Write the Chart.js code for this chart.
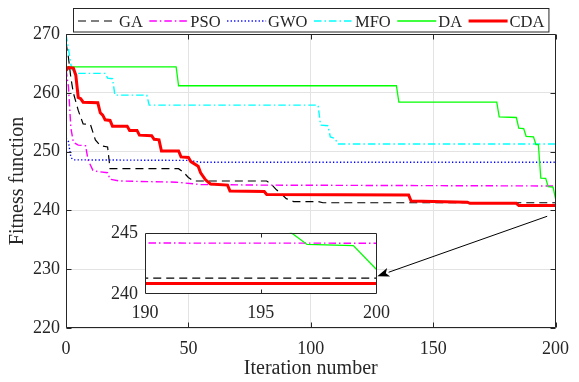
<!DOCTYPE html>
<html>
<head>
<meta charset="utf-8">
<script src="https://cdn.jsdelivr.net/npm/chart.js@4.4.1/dist/chart.umd.min.js"></script>
<style>
  html, body { margin: 0; padding: 0; background: #fff; }
  #wrap { position: relative; width: 579px; height: 382px; }
  #mainChart { position: absolute; left: 0; top: 0; }
  #insetChart { position: absolute; left: 100px; top: 215px; }
</style>
</head>
<body>
<div id="wrap">
  <canvas id="mainChart" width="579" height="382"></canvas>
  <canvas id="insetChart" width="298" height="115"></canvas>
</div>
<script>
// convergence curves (iteration, fitness)
const gaIter = [0, 1, 2, 3, 5, 7, 10, 12, 14, 17, 18, 46, 48, 50, 52, 82, 84, 86, 88, 90, 93, 103, 105, 200]
const gaFit = [268.5, 266, 262.5, 260, 257, 254.7, 254.6, 252, 251, 250.8, 247.1, 247.1, 246.5, 245.6, 245.0, 245.0, 244.4, 243.5, 242.8, 242.0, 241.5, 241.5, 241.3, 241.3]

const psoIter = [0, 1, 2, 3, 5, 8, 9, 11, 13, 17, 18, 22, 45, 55, 80, 200]
const psoFit = [264, 261, 254, 251.6, 251.1, 251.0, 248.6, 246.8, 246.6, 246.4, 245.3, 245.0, 244.8, 244.4, 244.3, 244.15]

const gwoIter = [0, 1, 2, 3, 50, 55, 200]
const gwoFit = [252.3, 251.7, 249.0, 248.6, 248.5, 248.2, 248.2]

const mfoIter = [0, 1, 2, 3, 16, 17, 19, 20, 33, 34, 103, 104, 107, 108, 110, 111, 200]
const mfoFit = [270, 267.5, 264.8, 263.3, 263.3, 262.5, 262.4, 259.6, 259.6, 257.9, 257.9, 254.5, 254.4, 252.5, 252.2, 251.3, 251.3]

const daIter = [0, 45, 46, 135, 136, 176, 177, 184, 185, 187, 188, 191, 192, 193, 194, 196, 197, 199, 200]
const daFit = [264.4, 264.4, 261.2, 261.2, 258.4, 258.4, 255.9, 255.8, 254.0, 253.9, 252.6, 252.5, 251.2, 251.2, 245.5, 245.45, 244.05, 243.95, 242.0]

const cdaIter = [0, 1, 3, 4, 5, 6, 7, 13, 14, 15, 16, 18, 19, 25, 26, 29, 30, 35, 36, 38, 39, 46, 47, 50, 51, 54, 55, 57, 59, 66, 67, 81, 82, 140, 141, 164, 165, 184, 185, 200]
const cdaFit = [263.8, 264.3, 264.2, 263, 259.2, 259.0, 258.4, 258.3, 256.6, 256.2, 255.4, 255.3, 254.3, 254.3, 253.6, 253.6, 252.8, 252.7, 252.1, 252.0, 250.1, 250.1, 249.1, 249.0, 248.3, 247.5, 246.4, 245.2, 244.5, 244.3, 243.3, 243.2, 242.7, 242.6, 241.6, 241.4, 241.2, 241.2, 240.85, 240.85]

const xTicks = [0, 50, 100, 150, 200]
const yTicks = [220, 230, 240, 250, 260, 270]
const insetXTicks = [190, 195, 200]
const insetYTicks = [240, 245]

// arrow from the curve ends to the zoom box (data coords of the main axes)
const arrowFrom = [196.6, 239.0]
const arrowTo = [127.2, 228.8]

const FONT = '"Liberation Serif", "Times New Roman", serif'
const INK = '#262626'

const series = [
    { label: 'GA', iter: gaIter, fit: gaFit, color: '#000000', width: 1.2, dash: [8, 5] },
    { label: 'PSO', iter: psoIter, fit: psoFit, color: '#ff00ff', width: 1.4, dash: [7.5, 3, 1.5, 3] },
    { label: 'GWO', iter: gwoIter, fit: gwoFit, color: '#0000ff', width: 1.4, dash: [1.3, 2.2] },
    { label: 'MFO', iter: mfoIter, fit: mfoFit, color: '#00ffff', width: 1.4, dash: [7.5, 3, 1.5, 3] },
    { label: 'DA', iter: daIter, fit: daFit, color: '#00ff00', width: 1.3, dash: [] },
    { label: 'CDA', iter: cdaIter, fit: cdaFit, color: '#ff0000', width: 3, dash: [] },
]

const makeDatasets = () => series.map((s, i) => ({
    label: s.label,
    data: s.iter.map((x, k) => ({ x: x, y: s.fit[k] })),
    borderColor: s.color,
    backgroundColor: s.color,
    borderWidth: s.width,
    borderDash: s.dash,
    pointRadius: 0,
    tension: 0,
    fill: false,
    order: series.length - i,
}))

const setTicks = (vals) => (scale) => { scale.ticks = vals.map(v => ({ value: v })) }

const drawBoxAndTicks = (chart, xt, yt, len, xInner, yInner) => {
    const { ctx, chartArea: a, scales: { x, y } } = chart
    ctx.save()
    ctx.strokeStyle = INK
    ctx.lineWidth = 1
    ctx.setLineDash([])
    ctx.beginPath()
    const L = Math.round(a.left) + 0.5, R = Math.round(a.right) - 0.5
    const T = Math.round(a.top) + 0.5, B = Math.round(a.bottom) - 0.5
    ctx.rect(L, T, R - L, B - T)
    xt.forEach(v => {
        if (!xInner && (v === xt[0] || v === xt[xt.length - 1])) return
        const px = Math.round(x.getPixelForValue(v)) + 0.5
        ctx.moveTo(px, B); ctx.lineTo(px, B - len)
        ctx.moveTo(px, T); ctx.lineTo(px, T + len)
    })
    yt.forEach(v => {
        if (!yInner && (v === yt[0] || v === yt[yt.length - 1])) return
        const py = Math.round(y.getPixelForValue(v)) + 0.5
        ctx.moveTo(L, py); ctx.lineTo(L + len, py)
        ctx.moveTo(R, py); ctx.lineTo(R - len, py)
    })
    ctx.stroke()
    ctx.restore()
}

const mainDecor = {
    id: 'mainDecor',
    beforeDraw(chart) {
        const { ctx } = chart
        ctx.save()
        ctx.fillStyle = '#ffffff'
        ctx.fillRect(0, 0, chart.width, chart.height)
        ctx.restore()
    },
    afterDraw(chart) {
        const { ctx, chartArea: a, scales: { x, y } } = chart
        drawBoxAndTicks(chart, xTicks, yTicks, 5, true, true)

        // arrow
        const x0 = x.getPixelForValue(arrowFrom[0]), y0 = y.getPixelForValue(arrowFrom[1])
        const x1 = x.getPixelForValue(arrowTo[0]), y1 = y.getPixelForValue(arrowTo[1])
        const ang = Math.atan2(y1 - y0, x1 - x0)
        const hl = 12, hw = 4.5
        const bx = x1 - hl * Math.cos(ang), by = y1 - hl * Math.sin(ang)
        ctx.save()
        ctx.strokeStyle = '#000'
        ctx.fillStyle = '#000'
        ctx.lineWidth = 1
        ctx.beginPath()
        ctx.moveTo(x0, y0); ctx.lineTo(bx, by)
        ctx.stroke()
        ctx.beginPath()
        ctx.moveTo(x1, y1)
        ctx.lineTo(bx + hw * Math.sin(ang), by - hw * Math.cos(ang))
        ctx.lineTo(bx + 3 * Math.cos(ang), by + 3 * Math.sin(ang))
        ctx.lineTo(bx - hw * Math.sin(ang), by + hw * Math.cos(ang))
        ctx.closePath()
        ctx.fill()
        ctx.restore()

        // legend box
        ctx.save()
        ctx.font = '16.5px ' + FONT
        const sample = 39, gapText = 2, gapItem = 6.5, pad = 4.5
        const widths = series.map(s => ctx.measureText(s.label).width)
        let total = pad * 2 + gapItem * (series.length - 1)
        widths.forEach(w => { total += sample + gapText + w })
        const left = Math.round((a.left + a.right) / 2 - total / 2) + 0.5
        ctx.fillStyle = '#fff'
        ctx.fillRect(left, 8.5, total, 23.5)
        ctx.strokeStyle = INK
        ctx.lineWidth = 1
        ctx.strokeRect(left, 8.5, total, 23.5)
        let cx = left + pad
        series.forEach((s, i) => {
            ctx.beginPath()
            ctx.strokeStyle = s.color
            ctx.lineWidth = s.width
            ctx.setLineDash(s.dash)
            ctx.moveTo(cx, 21); ctx.lineTo(cx + sample, 21)
            ctx.stroke()
            ctx.setLineDash([])
            cx += sample + gapText
            ctx.fillStyle = INK
            ctx.textBaseline = 'alphabetic'
            ctx.fillText(s.label, cx, 26.5)
            cx += widths[i] + gapItem
        })
        ctx.restore()
    }
}

new Chart(document.getElementById('mainChart'), {
    type: 'line',
    data: { datasets: makeDatasets() },
    options: {
        responsive: false,
        animation: false,
        devicePixelRatio: 1,
        layout: { padding: { left: 0, right: 14, top: 34, bottom: 0 } },
        plugins: { legend: { display: false }, tooltip: { enabled: false } },
        scales: {
            x: {
                type: 'linear', min: 0, max: 200,
                afterBuildTicks: setTicks(xTicks),
                afterFit: (s) => { s.height = 54 },
                grid: { color: '#e3e3e3', drawTicks: false },
                border: { display: false },
                ticks: { color: INK, font: { family: FONT, size: 18 }, padding: 10, maxRotation: 0 },
                title: { display: true, text: 'Iteration number', color: INK, font: { family: FONT, size: 20 }, padding: { top: 0, bottom: 1 } },
            },
            y: {
                type: 'linear', min: 220, max: 270,
                afterBuildTicks: setTicks(yTicks),
                afterFit: (s) => { s.width = 66 },
                grid: { color: '#e3e3e3', drawTicks: false },
                border: { display: false },
                ticks: { color: INK, font: { family: FONT, size: 18 }, padding: 6 },
                title: { display: true, text: 'Fitness function', color: INK, font: { family: FONT, size: 20 }, padding: { top: 6, bottom: 0 } },
            },
        },
    },
    plugins: [mainDecor],
})

const insetDecor = {
    id: 'insetDecor',
    beforeDatasetsDraw(chart) {
        const { ctx, chartArea: a } = chart
        ctx.save()
        ctx.fillStyle = '#ffffff'
        ctx.fillRect(a.left, a.top, a.right - a.left, a.bottom - a.top)
        ctx.restore()
    },
    afterDraw(chart) {
        drawBoxAndTicks(chart, insetXTicks, insetYTicks, 4, false, false)
    }
}

new Chart(document.getElementById('insetChart'), {
    type: 'line',
    data: { datasets: makeDatasets() },
    options: {
        responsive: false,
        animation: false,
        devicePixelRatio: 1,
        layout: { padding: { left: 0, right: 16, top: 14, bottom: 0 } },
        plugins: { legend: { display: false }, tooltip: { enabled: false } },
        scales: {
            x: {
                type: 'linear', min: 190, max: 200,
                afterBuildTicks: setTicks(insetXTicks),
                afterFit: (s) => { s.height = 36 },
                grid: { display: false, drawTicks: false },
                border: { display: false },
                ticks: { color: INK, font: { family: FONT, size: 18 }, padding: 8, maxRotation: 0 },
            },
            y: {
                type: 'linear', min: 240, max: 245,
                afterBuildTicks: setTicks(insetYTicks),
                afterFit: (s) => { s.width = 45 },
                grid: { display: false, drawTicks: false },
                border: { display: false },
                ticks: { color: INK, font: { family: FONT, size: 18 }, padding: 7 },
            },
        },
    },
    plugins: [insetDecor],
})
</script>
</body>
</html>
